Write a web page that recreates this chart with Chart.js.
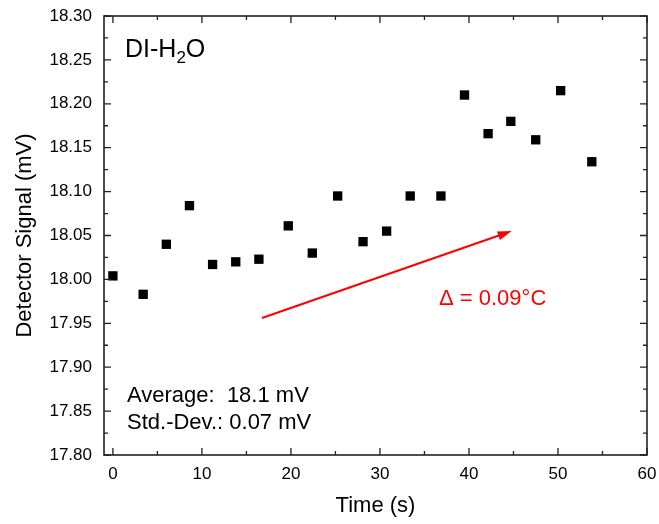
<!DOCTYPE html>
<html>
<head>
<meta charset="utf-8">
<script src="https://cdn.jsdelivr.net/npm/chart.js@4/dist/chart.umd.min.js"></script>
<style>
  html, body { margin: 0; padding: 0; background: #fff; }
  #wrap { width: 659px; height: 524px; }
</style>
</head>
<body>
<div id="wrap"><canvas id="c" width="659" height="524"></canvas></div>
<script>
const timeS = [0, 3.4, 6.0, 8.6, 11.2, 13.8, 16.4, 19.7, 22.4, 25.25, 28.1, 30.75, 33.4, 36.85, 39.5, 42.15, 44.7, 47.5, 50.3, 53.8];
const signalMV = [18.004, 17.983, 18.040, 18.084, 18.017, 18.020, 18.023, 18.061, 18.030, 18.095, 18.043, 18.055, 18.095, 18.095, 18.210, 18.166, 18.180, 18.159, 18.215, 18.134];
const xTicks = [0, 10, 20, 30, 40, 50, 60];
const xMinorTicks = [5, 15, 25, 35, 45, 55];
const yTicks = [17.80, 17.85, 17.90, 17.95, 18.00, 18.05, 18.10, 18.15, 18.20, 18.25, 18.30];
const yMinorTicks = [17.825, 17.875, 17.925, 17.975, 18.025, 18.075, 18.125, 18.175, 18.225, 18.275];
const arrowX = [16.75, 44.8];
const arrowY = [17.956, 18.055];
const sampleLabel = ['DI-H', '2', 'O'];
const deltaLabel = 'Δ = 0.09°C';
const statsLines = ['Average:  18.1 mV', 'Std.-Dev.: 0.07 mV'];

const FONT = '"Liberation Sans", Arial, sans-serif';

const decor = {
  id: 'decor',
  afterDatasetsDraw(chart) {
    const ctx = chart.ctx;
    const a = chart.chartArea;
    const xs = chart.scales.x, ys = chart.scales.y;
    ctx.save();
    // arrow
    const x1 = xs.getPixelForValue(arrowX[0]), y1 = ys.getPixelForValue(arrowY[0]);
    const x2 = xs.getPixelForValue(arrowX[1]), y2 = ys.getPixelForValue(arrowY[1]);
    const ang = Math.atan2(y2 - y1, x2 - x1);
    const hl = 14, hw = 4.5;
    const bx = x2 - hl * Math.cos(ang), by = y2 - hl * Math.sin(ang);
    ctx.strokeStyle = '#ff0000';
    ctx.lineWidth = 2;
    ctx.beginPath(); ctx.moveTo(x1, y1); ctx.lineTo(bx + 2 * Math.cos(ang), by + 2 * Math.sin(ang)); ctx.stroke();
    ctx.fillStyle = '#ff0000';
    ctx.beginPath();
    ctx.moveTo(x2, y2);
    ctx.lineTo(bx - hw * Math.sin(ang), by + hw * Math.cos(ang));
    ctx.lineTo(bx + hw * Math.sin(ang), by - hw * Math.cos(ang));
    ctx.closePath(); ctx.fill();

    // texts
    ctx.textBaseline = 'alphabetic';
    ctx.textAlign = 'left';
    ctx.fillStyle = '#ff0000';
    ctx.font = '22px ' + FONT;
    ctx.fillText(deltaLabel, a.left + 335, a.top + 289);

    ctx.fillStyle = '#000';
    ctx.font = '25px ' + FONT;
    let tx = a.left + 21, ty = a.top + 41;
    ctx.fillText(sampleLabel[0], tx, ty);
    tx += ctx.measureText(sampleLabel[0]).width;
    ctx.font = '17px ' + FONT;
    ctx.fillText(sampleLabel[1], tx, ty + 6);
    tx += ctx.measureText(sampleLabel[1]).width;
    ctx.font = '25px ' + FONT;
    ctx.fillText(sampleLabel[2], tx, ty);

    ctx.font = '22px ' + FONT;
    ctx.fillText(statsLines[0], a.left + 23, a.top + 386);
    ctx.fillText(statsLines[1], a.left + 23, a.top + 413);

    // frame
    ctx.strokeStyle = '#222';
    ctx.lineWidth = 1.6;
    ctx.strokeRect(a.left, a.top, a.right - a.left, a.bottom - a.top);
    // inward ticks
    ctx.lineWidth = 1.3;
    ctx.beginPath();
    const majL = 7, minL = 4;
    xTicks.forEach(v => { const p = xs.getPixelForValue(v);
      ctx.moveTo(p, a.bottom); ctx.lineTo(p, a.bottom - majL);
      ctx.moveTo(p, a.top); ctx.lineTo(p, a.top + majL); });
    xMinorTicks.forEach(v => { const p = xs.getPixelForValue(v);
      ctx.moveTo(p, a.bottom); ctx.lineTo(p, a.bottom - minL);
      ctx.moveTo(p, a.top); ctx.lineTo(p, a.top + minL); });
    yTicks.forEach(v => { const p = ys.getPixelForValue(v);
      ctx.moveTo(a.left, p); ctx.lineTo(a.left + majL, p);
      ctx.moveTo(a.right, p); ctx.lineTo(a.right - majL, p); });
    yMinorTicks.forEach(v => { const p = ys.getPixelForValue(v);
      ctx.moveTo(a.left, p); ctx.lineTo(a.left + minL, p);
      ctx.moveTo(a.right, p); ctx.lineTo(a.right - minL, p); });
    ctx.stroke();
    ctx.restore();
  }
};

new Chart(document.getElementById('c'), {
  type: 'scatter',
  data: {
    datasets: [{
      data: timeS.map((t, i) => ({ x: t, y: signalMV[i] })),
      pointStyle: 'rect',
      pointRadius: 6.6,
      pointHoverRadius: 6.6,
      backgroundColor: '#000',
      borderColor: '#000',
      borderWidth: 0
    }]
  },
  options: {
    responsive: false,
    animation: false,
    devicePixelRatio: 1,
    layout: { padding: { top: 16, right: 12, left: 0, bottom: 0 } },
    plugins: { legend: { display: false }, tooltip: { enabled: false } },
    scales: {
      x: {
        type: 'linear', min: -1, max: 60,
        grid: { display: false, drawTicks: false },
        border: { display: false },
        afterBuildTicks: s => { s.ticks = xTicks.map(v => ({ value: v })); },
        afterFit: s => { s.height = 69; s.paddingLeft = 0; s.paddingRight = 0; },
        ticks: { padding: 9, color: '#000', font: { family: FONT, size: 17 }, maxRotation: 0 },
        title: { display: true, text: 'Time (s)', color: '#000', font: { family: FONT, size: 22 }, padding: { top: 5, bottom: 5 } }
      },
      y: {
        type: 'linear', min: 17.8, max: 18.3,
        grid: { display: false, drawTicks: false },
        border: { display: false },
        afterBuildTicks: s => { s.ticks = yTicks.map(v => ({ value: v })); },
        afterFit: s => { s.width = 104; s.paddingTop = 0; s.paddingBottom = 0; },
        ticks: { padding: 12, color: '#000', font: { family: FONT, size: 17 }, callback: v => Number(v).toFixed(2) },
        title: { display: true, text: 'Detector Signal (mV)', color: '#000', font: { family: FONT, size: 22 }, padding: { top: 12, bottom: 12 } }
      }
    }
  },
  plugins: [decor]
});
</script>
</body>
</html>
